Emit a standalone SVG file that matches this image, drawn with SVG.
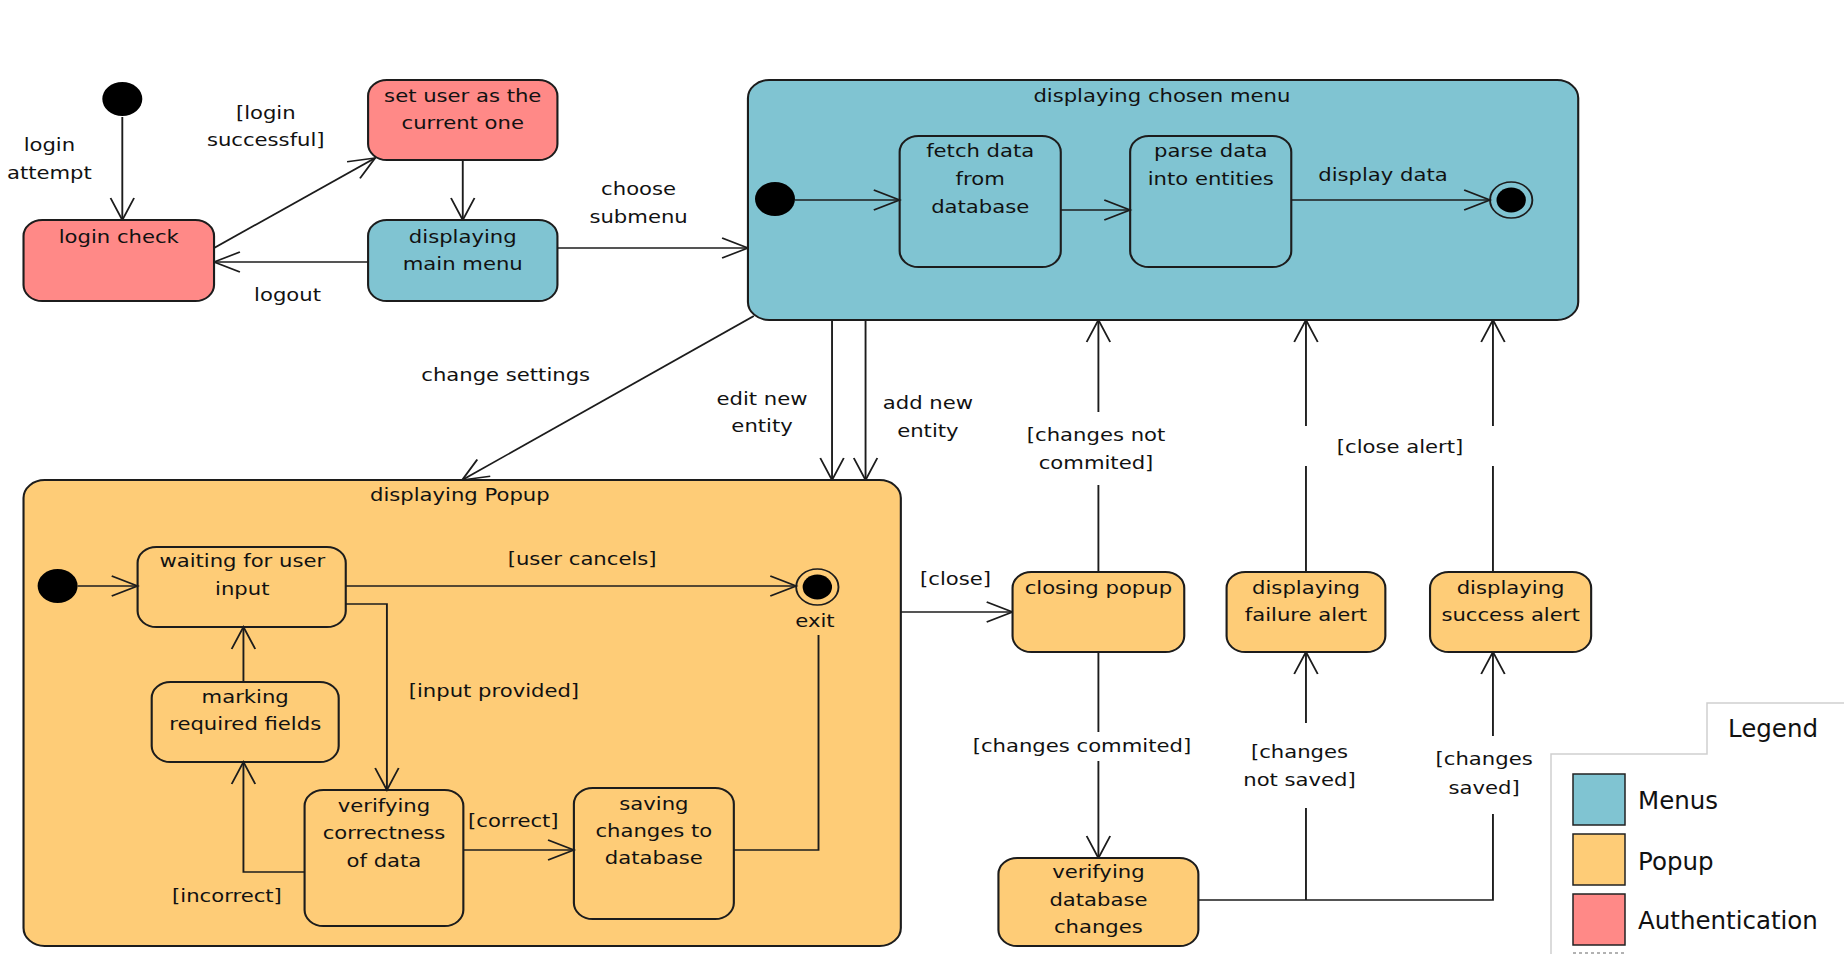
<svg xmlns="http://www.w3.org/2000/svg" width="1844" height="954" viewBox="0 0 1844 954">
<defs>
<style>
text{font-family:"DejaVu Sans","Liberation Sans",sans-serif;font-size:18px;fill:#111;text-anchor:middle}
.box{stroke:#1c1c1c;stroke-width:1.8}
.menu{fill:#80C4D2}
.pop{fill:#FECC77}
.auth{fill:#FF8987}
.ln{fill:none;stroke:#1c1c1c;stroke-width:1.6}
.arr{marker-end:url(#arr)}
.dot{fill:#000}
.ring{fill:none;stroke:#1c1c1c;stroke-width:1.6}
.lg{font-size:24.5px;text-anchor:start}
.lgbox{stroke:#222;stroke-width:1.5}
</style>
<marker id="arr" markerUnits="userSpaceOnUse" markerWidth="26" markerHeight="24" viewBox="-24 -12 26 24" refX="0" refY="0" orient="auto" overflow="visible">
<path d="M-22,-10 L0,0 L-22,10" fill="none" stroke="#1c1c1c" stroke-width="1.6"/>
</marker>
</defs>
<rect width="1844" height="954" fill="#fff"/>
<g transform="scale(1.17602,1)">
<g id="connectors">
<path class="ln arr" d="M104,117 V220"/>
<path class="ln arr" d="M182,248 L319,158"/>
<path class="ln arr" d="M393.5,160 V220"/>
<path class="ln arr" d="M313,262 H182"/>
<path class="ln arr" d="M474,248 H636"/>
<path class="ln arr" d="M641,316 L393,480"/>
<path class="ln arr" d="M707.5,320 V480"/>
<path class="ln arr" d="M736,320 V480"/>
<path class="ln arr" d="M766,612 H861"/>
<path class="ln" d="M934,572 V485"/>
<path class="ln arr" d="M934,412 V320"/>
<path class="ln" d="M934,652 V732"/>
<path class="ln arr" d="M934,761 V858"/>
<path class="ln" d="M1019,900 H1269.5 V814"/>
<path class="ln" d="M1110.5,900 V808"/>
<path class="ln arr" d="M1110.5,723 V652"/>
<path class="ln arr" d="M1269.5,736 V652"/>
<path class="ln" d="M1110.5,572 V466"/>
<path class="ln arr" d="M1110.5,426 V320"/>
<path class="ln" d="M1269.5,572 V466"/>
<path class="ln arr" d="M1269.5,426 V320"/>
</g>
<g id="initial-login"><circle class="dot" cx="104" cy="99" r="17"/></g>
<g id="login-check"><rect class="box auth" x="20" y="220" width="162" height="81" rx="16"/><text x="101" y="243">login check</text></g>
<g id="set-user"><rect class="box auth" x="313" y="80" width="161" height="80" rx="16"/><text x="393.5" y="102">set user as the</text><text x="393.5" y="129">current one</text></g>
<g id="main-menu"><rect class="box menu" x="313" y="220" width="161" height="81" rx="16"/><text x="393.5" y="243">displaying</text><text x="393.5" y="270">main menu</text></g>
<g id="chosen-menu">
<rect class="box menu" x="636" y="80" width="706" height="240" rx="18"/>
<text x="988" y="102">displaying chosen menu</text>
<circle class="dot" cx="659" cy="199" r="17"/>
<rect class="box menu" x="765" y="136" width="137" height="131" rx="16"/>
<text x="833.5" y="157">fetch data</text><text x="833.5" y="185">from</text><text x="833.5" y="213">database</text>
<rect class="box menu" x="961" y="136" width="137" height="131" rx="16"/>
<text x="1029.5" y="157">parse data</text><text x="1029.5" y="185">into entities</text>
<circle class="ring" cx="1285" cy="200" r="18"/><circle class="dot" cx="1285" cy="200" r="12.5"/>
<path class="ln arr" d="M676,200 H765"/>
<path class="ln arr" d="M902,210 H961"/>
<path class="ln arr" d="M1098,200 H1267"/>
<text x="1176" y="181">display data</text>
</g>
<g id="popup">
<rect class="box pop" x="20" y="480" width="746" height="466" rx="18"/>
<text x="391" y="501">displaying Popup</text>
<circle class="dot" cx="49" cy="586" r="17"/>
<rect class="box pop" x="117" y="547" width="177" height="80" rx="16"/>
<text x="206" y="567">waiting for user</text><text x="206" y="595">input</text>
<circle class="ring" cx="695" cy="587" r="18"/><circle class="dot" cx="695" cy="587" r="12.5"/>
<text x="693" y="627">exit</text>
<rect class="box pop" x="129" y="682" width="159" height="80" rx="16"/>
<text x="208.5" y="703">marking</text><text x="208.5" y="730">required fields</text>
<rect class="box pop" x="259" y="790" width="135" height="136" rx="16"/>
<text x="326.5" y="812">verifying</text><text x="326.5" y="839">correctness</text><text x="326.5" y="867">of data</text>
<rect class="box pop" x="488" y="788" width="136" height="131" rx="16"/>
<text x="556" y="810">saving</text><text x="556" y="837">changes to</text><text x="556" y="864">database</text>
<path class="ln arr" d="M66,586 H117"/>
<path class="ln arr" d="M294,586 H677"/>
<path class="ln arr" d="M294,604 H329 V790"/>
<path class="ln arr" d="M207,682 V627"/>
<path class="ln arr" d="M259,872 H207 V762"/>
<path class="ln arr" d="M394,850 H488"/>
<path class="ln" d="M624,850 H696 V635"/>
<text x="495" y="565">[user cancels]</text>
<text x="420" y="697">[input provided]</text>
<text x="436.5" y="827">[correct]</text>
<text x="193" y="902">[incorrect]</text>
</g>
<g id="closing-popup"><rect class="box pop" x="861" y="572" width="146" height="80" rx="16"/><text x="934" y="594">closing popup</text></g>
<g id="failure-alert"><rect class="box pop" x="1043" y="572" width="135" height="80" rx="16"/><text x="1110.5" y="594">displaying</text><text x="1110.5" y="621">failure alert</text></g>
<g id="success-alert"><rect class="box pop" x="1216" y="572" width="137" height="80" rx="16"/><text x="1284.5" y="594">displaying</text><text x="1284.5" y="621">success alert</text></g>
<g id="verify-db"><rect class="box pop" x="849" y="858" width="170" height="88" rx="16"/><text x="934" y="878">verifying</text><text x="934" y="906">database</text><text x="934" y="933">changes</text></g>
<g id="labels">
<text x="42" y="151">login</text><text x="42" y="179">attempt</text>
<text x="226" y="119">[login</text><text x="226" y="146">successful]</text>
<text x="244.5" y="301">logout</text>
<text x="543" y="195">choose</text><text x="543" y="223">submenu</text>
<text x="430" y="381">change settings</text>
<text x="648" y="405">edit new</text><text x="648" y="432">entity</text>
<text x="789" y="409">add new</text><text x="789" y="437">entity</text>
<text x="812.5" y="585">[close]</text>
<text x="932" y="441">[changes not</text><text x="932" y="469">commited]</text>
<text x="1190.5" y="453">[close alert]</text>
<text x="920" y="752">[changes commited]</text>
<text x="1105" y="758">[changes</text><text x="1105" y="786">not saved]</text>
<text x="1262" y="765">[changes</text><text x="1262" y="794">saved]</text>
</g>
</g>
<g id="legend">
<path d="M1551,954 V754 H1707 V703 H1844" fill="none" stroke="#cfcfcf" stroke-width="1.5"/>
<text class="lg" x="1728" y="737">Legend</text>
<rect class="lgbox menu" x="1573" y="774" width="52" height="51"/>
<text class="lg" x="1638" y="809">Menus</text>
<rect class="lgbox pop" x="1573" y="834" width="52" height="51"/>
<text class="lg" x="1638" y="870">Popup</text>
<rect class="lgbox auth" x="1573" y="894" width="52" height="51"/>
<text class="lg" x="1638" y="929">Authentication</text>
<path d="M1573,953 H1625" stroke="#999" stroke-width="1.5" stroke-dasharray="3,3"/>
</g>
</svg>
